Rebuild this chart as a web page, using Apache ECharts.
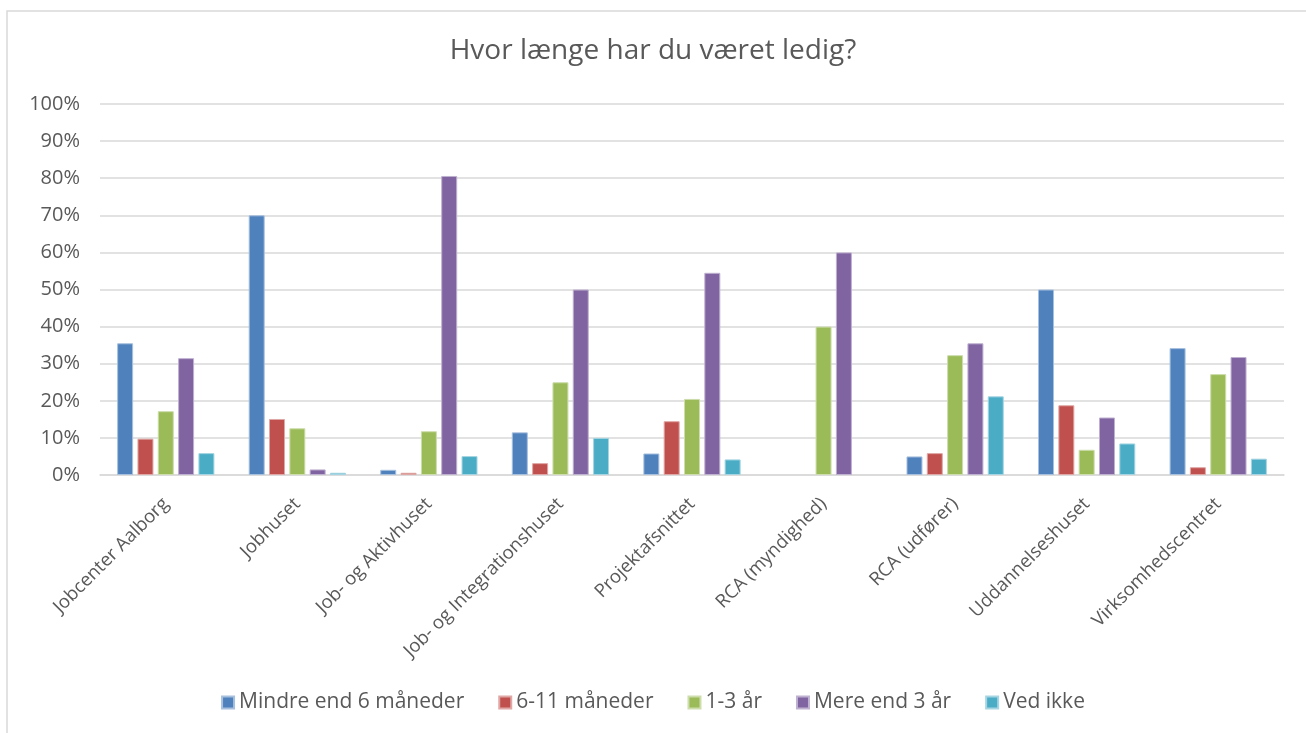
<!DOCTYPE html>
<html>
<head>
<meta charset="utf-8">
<script src="https://cdn.jsdelivr.net/npm/echarts@6/dist/echarts.min.js"></script>
<style>
  html, body { margin: 0; padding: 0; background: #fff; }
  #main { width: 1306px; height: 733px; }
</style>
</head>
<body>
<div id="main"></div>
<script>
var categories = ['Jobcenter Aalborg', 'Jobhuset', 'Job- og Aktivhuset', 'Job- og Integrationshuset',
  'Projektafsnittet', 'RCA (myndighed)', 'RCA (udfører)', 'Uddannelseshuset', 'Virksomhedscentret'];
var seriesNames = ['Mindre end 6 måneder', '6-11 måneder', '1-3 år', 'Mere end 3 år', 'Ved ikke'];
// null = no bar drawn in the original
var mindre6 = [35.5, 70.0, 1.4, 11.5, 5.8, null, 5.0, 50.0, 34.2];
var m6til11 = [9.8, 15.1, 0.6, 3.2, 14.5, null, 5.9, 18.8, 2.1];
var aar1til3 = [17.2, 12.6, 11.8, 25.0, 20.5, 40.0, 32.3, 6.8, 27.2];
var mere3 = [31.5, 1.5, 80.6, 50.0, 54.5, 60.0, 35.5, 15.5, 31.8];
var vedIkke = [5.9, 0.6, 5.1, 10.0, 4.2, null, 21.2, 8.5, 4.4];
var yTicks = [0, 10, 20, 30, 40, 50, 60, 70, 80, 90, 100];

var colors = ['#4F81BD', '#C0504D', '#9BBB59', '#8064A2', '#4BACC6'];
var borders = ['#A7C0DE', '#DFA8A6', '#CDDDAC', '#BFB1D0', '#A5D5E2'];
var allData = [mindre6, m6til11, aar1til3, mere3, vedIkke];

var dom = document.getElementById('main');
var myChart = echarts.init(dom);
var textColor = '#595959';
var font = 'Open Sans';

var series = seriesNames.map(function (name, i) {
  return {
    name: name,
    type: 'bar',
    barWidth: 16,
    barGap: '27%',
    data: allData[i],
    itemStyle: { color: colors[i], borderColor: borders[i], borderWidth: 1 }
  };
});

var option = {
  animation: false,
  color: colors,
  title: {
    text: 'Hvor længe har du været ledig?',
    left: 'center',
    top: 32,
    textStyle: { color: textColor, fontSize: 28, fontWeight: 'normal', fontFamily: font }
  },
  graphic: [{
    type: 'rect',
    shape: { x: 7, y: 11, width: 1320, height: 740 },
    style: { fill: null, stroke: '#D9D9D9', lineWidth: 1.5 },
    silent: true
  }],
  legend: {
    data: seriesNames,
    bottom: 15,
    left: 'center',
    icon: 'rect',
    itemWidth: 12,
    itemHeight: 12,
    itemGap: 34,
    textStyle: { color: textColor, fontSize: 21, fontFamily: font }
  },
  grid: { left: 100, right: 22, top: 104, bottom: 258, containLabel: false },
  xAxis: {
    type: 'category',
    data: categories,
    axisTick: { show: false },
    axisLine: { lineStyle: { color: '#D9D9D9', width: 1.5 } },
    axisLabel: { rotate: 45, margin: 26, color: textColor, fontSize: 18.5, fontFamily: font, interval: 0 }
  },
  yAxis: {
    type: 'value',
    min: yTicks[0],
    max: yTicks[yTicks.length - 1],
    interval: 10,
    axisLine: { show: false },
    axisTick: { show: false },
    axisLabel: { formatter: '{value}%', color: textColor, fontSize: 20, fontFamily: font, margin: 20 },
    splitLine: { lineStyle: { color: '#D9D9D9', width: 1.5 } }
  },
  series: series
};

if (option && typeof option === 'object') {
  myChart.setOption(option, true);
}
</script>
</body>
</html>
